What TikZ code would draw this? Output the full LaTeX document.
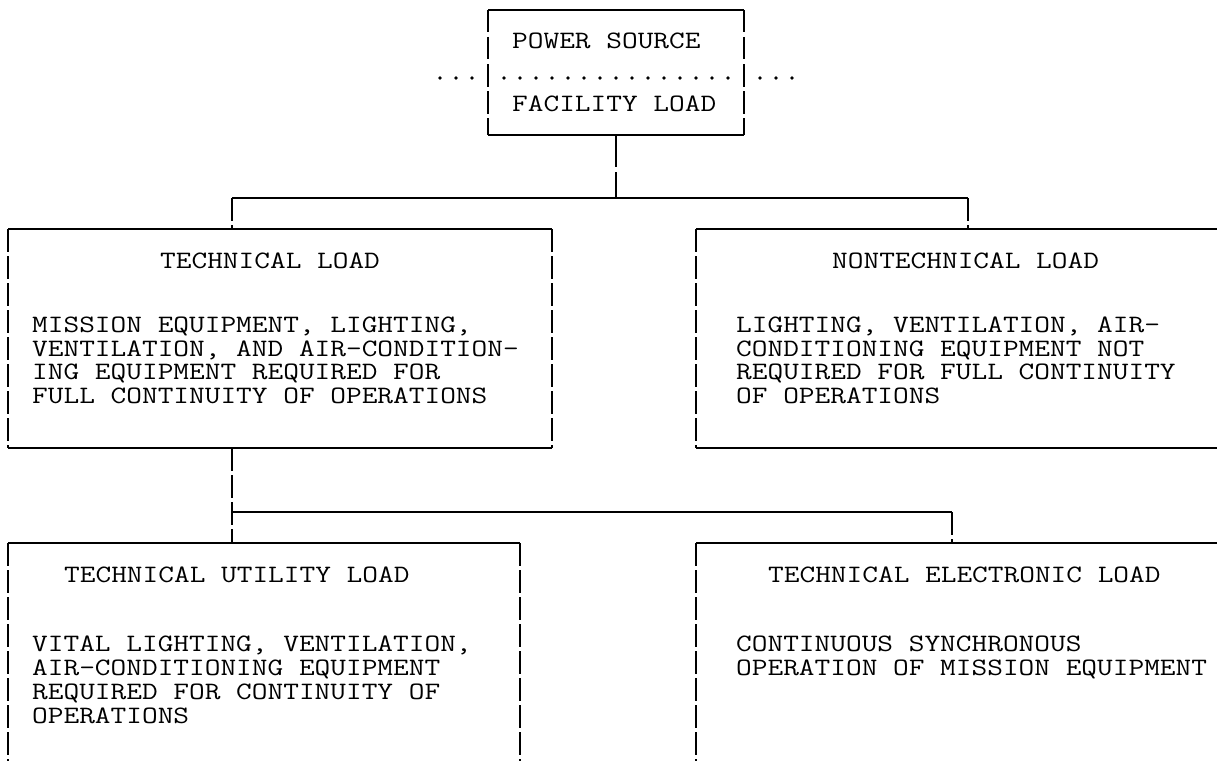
\documentclass[tikz,border=0pt]{standalone}
\usepackage{fontspec}
\newfontfamily\cour{Latin Modern Mono}[FakeStretch=1.219]
\begin{document}
\begin{tikzpicture}[x=1pt,y=-1pt,
  txt/.style={anchor=base west, inner sep=0pt, font=\cour\fontsize{25}{25}\selectfont},
  hline/.style={line width=2.7pt},
  vbar/.style={line width=2.4pt, dash pattern=on 22.5pt off 4.5pt},
  longbar/.style={line width=2.4pt, dash pattern=on 32pt off 5pt},
  dot/.style={circle, fill=black, inner sep=0pt, minimum size=3.6pt}]
\useasboundingbox (0,0) rectangle (1217,760);
\def\bl{7.7}
\def\p{23.8}
% ---- box areas (named corners) ----
\coordinate (srcNW) at (488,10);  \coordinate (srcSE) at (744,135);
\coordinate (techNW) at (8,229);  \coordinate (techSE) at (552,448);
\coordinate (ntNW) at (696,229);  \coordinate (ntSE) at (1224,448);
\coordinate (utNW) at (8,543);    \coordinate (utSE) at (520,790);
\coordinate (elNW) at (696,543);  \coordinate (elSE) at (1224,790);
% ---- box outlines: solid top/bottom, broken sides ----
\foreach \b in {src,tech,nt,ut,el}{
  \draw[hline] (\b NW) -- (\b NW -| \b SE);
  \draw[hline] (\b NW |- \b SE) -- (\b SE);
  \draw[vbar] (\b NW) -- (\b NW |- \b SE);
  \draw[vbar] (\b NW -| \b SE) -- (\b SE);
}
% ---- dotted line through the source box ----
\foreach \i in {0,1,2,4,5,6,7,8,9,10,11,12,13,14,15,16,17,18,20,21,22}
  \node[dot] (d\i) at ({440+16*\i},78) {};
% ---- connectors ----
\coordinate (srcOut) at (616,135);
\coordinate (bus1L) at (232,198);
\coordinate (bus1M) at (616,198);
\coordinate (bus1R) at (968,198);
\coordinate (techIn) at (232,229);
\coordinate (ntIn) at (968,229);
\coordinate (techOut) at (232,448);
\coordinate (bus2L) at (232,512);
\coordinate (bus2R) at (952,512);
\coordinate (utIn) at (232,543);
\coordinate (elIn) at (952,543);
\draw[longbar] (srcOut) -- (bus1M);
\draw[hline] (bus1L) -- (bus1R);
\draw[vbar] (bus1L) -- (techIn);
\draw[vbar] (bus1R) -- (ntIn);
\draw[vbar] (techOut) -- (utIn);
\draw[hline] (bus2L) -- (bus2R);
\draw[vbar] (bus2R) -- (elIn);
% ---- texts ----
\node[txt] (srcA) at (512,{40.5+\bl}) {POWER SOURCE};
\node[txt] (srcB) at (512,{104+\bl}) {FACILITY LOAD};
\node[txt] (techT) at (160,{261+\bl}) {TECHNICAL LOAD};
\foreach \t [count=\i from 0] in {{MISSION EQUIPMENT, LIGHTING,},{VENTILATION, AND AIR-CONDITION-},{ING EQUIPMENT REQUIRED FOR},{FULL CONTINUITY OF OPERATIONS}}
  \node[txt] (techB\i) at (32,{324.5+\i*\p+\bl}) {\t};
\node[txt] (ntT) at (832,{261+\bl}) {NONTECHNICAL LOAD};
\foreach \t [count=\i from 0] in {{LIGHTING, VENTILATION, AIR-},{CONDITIONING EQUIPMENT NOT},{REQUIRED FOR FULL CONTINUITY},{OF OPERATIONS}}
  \node[txt] (ntB\i) at (736,{324.5+\i*\p+\bl}) {\t};
\node[txt] (utT) at (64,{574.5+\bl}) {TECHNICAL UTILITY LOAD};
\foreach \t [count=\i from 0] in {{VITAL LIGHTING, VENTILATION,},{AIR-CONDITIONING EQUIPMENT},{REQUIRED FOR CONTINUITY OF},{OPERATIONS}}
  \node[txt] (utB\i) at (32,{644+\i*\p+\bl}) {\t};
\node[txt] (elT) at (768,{574.5+\bl}) {TECHNICAL ELECTRONIC LOAD};
\foreach \t [count=\i from 0] in {{CONTINUOUS SYNCHRONOUS},{OPERATION OF MISSION EQUIPMENT}}
  \node[txt] (elB\i) at (736,{644+\i*\p+\bl}) {\t};
\end{tikzpicture}
\end{document}
